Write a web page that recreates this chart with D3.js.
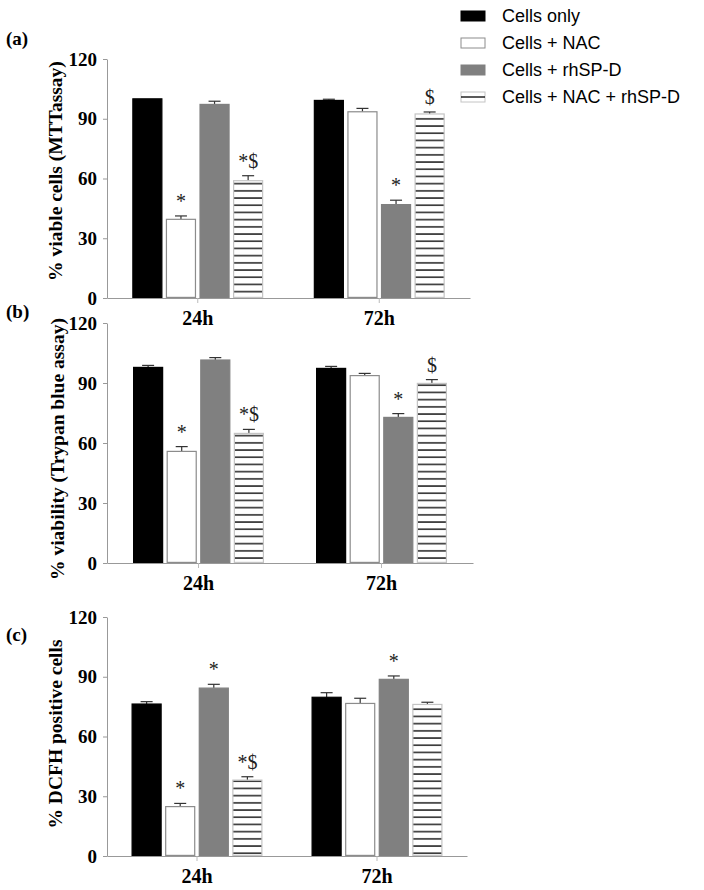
<!DOCTYPE html>
<html>
<head>
<meta charset="utf-8">
<script src="https://cdn.jsdelivr.net/npm/d3@7"></script>
<style>
  html, body { margin: 0; padding: 0; background: #fff; }
  svg { display: block; }
</style>
</head>
<body>
<svg id="chart" width="704" height="890"></svg>
<script>
// ---------------- data ----------------
const categories = ["24h", "72h"];
const seriesNames = ["Cells only", "Cells + NAC", "Cells + rhSP-D", "Cells + NAC + rhSP-D"];
const yTicks = [0, 30, 60, 90, 120];

const mttValues  = [[100, 39.5, 97.2, 58.9], [99.2, 93.5, 46.9, 92.4]];
const mttErrors  = [[0, 1.7, 1.6, 2.5], [0.6, 1.7, 2.2, 1.0]];
const mttMarks   = [["", "*", "", "*$"], ["", "", "*", "$"]];

const trypanValues = [[97.8, 55.8, 101.5, 64.8], [97.3, 93.7, 72.8, 89.8]];
const trypanErrors = [[1.0, 2.4, 1.2, 2.0], [1.0, 1.1, 1.9, 1.9]];
const trypanMarks  = [["", "*", "", "*$"], ["", "", "*", "$"]];

const dcfhValues = [[76.3, 24.8, 84.3, 38.1], [79.7, 76.6, 88.7, 76.1]];
const dcfhErrors = [[1.2, 1.6, 1.9, 1.7], [2.3, 2.6, 1.7, 1.1]];
const dcfhMarks  = [["", "*", "*", "*$"], ["", "", "*", ""]];

const panelLetters = ["(a)", "(b)", "(c)"];
const yTitles = ["% viable cells (MTTassay)", "% viability (Trypan blue assay)", "% DCFH positive cells"];

// ---------------- layout ----------------
const svg = d3.select("#chart");
const serif = "'Liberation Serif', 'Times New Roman', serif";
const sans = "'Liberation Sans', Arial, sans-serif";

const defs = svg.append("defs");
const pat = defs.append("pattern")
  .attr("id", "hatch").attr("patternUnits", "userSpaceOnUse")
  .attr("width", 8).attr("height", 7.2);
pat.append("rect").attr("width", 8).attr("height", 7.2).attr("fill", "#fff");
pat.append("rect").attr("x", 0).attr("y", 3).attr("width", 8).attr("height", 1.3).attr("fill", "#000");

const fills = ["#000000", "#ffffff", "#808080", "url(#hatch)"];
const strokes = ["#000000", "#8c8c8c", "#808080", "#c4c4c4"];

const panels = [
  { values: mttValues, errors: mttErrors, marks: mttMarks, left: 107, right: 470, y0: 298, y120: 59, titleY: 171, titleX: 58, letterY: 45 },
  { values: trypanValues, errors: trypanErrors, marks: trypanMarks, left: 107, right: 473, y0: 563, y120: 323, titleY: 449, titleX: 60, letterY: 318 },
  { values: dcfhValues, errors: dcfhErrors, marks: dcfhMarks, left: 107, right: 467, y0: 856, y120: 617, titleY: 734, titleX: 58, letterY: 641 }
];

panels.forEach((p, pi) => {
  const g = svg.append("g");
  const y = d3.scaleLinear().domain([0, 120]).range([p.y0, p.y120]);
  const x0 = d3.scaleBand().domain(categories).range([p.left, p.right]).padding(0);
  const x1 = d3.scaleBand().domain(seriesNames).range([-65.5, 65.5]).paddingInner(0.1);

  // y axis
  const yAxis = g.append("g").attr("transform", `translate(${p.left},0)`)
    .call(d3.axisLeft(y).tickValues(yTicks).tickSize(4).tickPadding(6).tickSizeOuter(0));
  yAxis.select(".domain").attr("stroke", "#999");
  yAxis.selectAll(".tick line").attr("stroke", "#999");
  yAxis.selectAll("text").attr("font-family", serif).attr("font-weight", "bold")
    .attr("font-size", 19).attr("fill", "#000");

  // x axis
  const xAxis = g.append("g").attr("transform", `translate(0,${p.y0})`)
    .call(d3.axisBottom(x0).tickSize(5).tickSizeOuter(0).tickPadding(8));
  xAxis.select(".domain").attr("stroke", "#999");
  xAxis.selectAll(".tick line").attr("stroke", "#bbb");
  xAxis.selectAll("text").attr("font-family", serif).attr("font-weight", "bold")
    .attr("font-size", 20).attr("fill", "#000");

  // bars
  categories.forEach((cat, ci) => {
    const cx = x0(cat) + x0.bandwidth() / 2;
    seriesNames.forEach((s, si) => {
      const v = p.values[ci][si];
      const e = p.errors[ci][si];
      const bx = cx + x1(s);
      const bw = x1.bandwidth();
      // error bar (upper only)
      if (e > 0) {
        g.append("line").attr("x1", bx + bw / 2).attr("x2", bx + bw / 2)
          .attr("y1", y(v)).attr("y2", y(v + e)).attr("stroke", "#333").attr("stroke-width", 1.2);
        g.append("line").attr("x1", bx + bw / 2 - 6).attr("x2", bx + bw / 2 + 6)
          .attr("y1", y(v + e)).attr("y2", y(v + e)).attr("stroke", "#333").attr("stroke-width", 1.2);
      }
      g.append("rect")
        .attr("x", bx + 0.6).attr("y", y(v))
        .attr("width", bw - 1.2).attr("height", y(0) - y(v) - 0.6)
        .attr("fill", fills[si]).attr("stroke", strokes[si]).attr("stroke-width", 1.2);
      const m = p.marks[ci][si];
      if (m) {
        g.append("text").attr("x", bx + bw / 2).attr("y", y(v + e) - 8)
          .attr("text-anchor", "middle").attr("font-family", serif)
          .attr("font-size", 20).attr("fill", "#222").text(m);
      }
    });
  });

  // y title
  g.append("text")
    .attr("transform", `translate(${p.titleX},${p.titleY}) rotate(-90)`)
    .attr("text-anchor", "middle").attr("dominant-baseline", "middle")
    .attr("font-family", serif).attr("font-weight", "bold").attr("font-size", 19.5)
    .text(yTitles[pi]);

  // panel letter
  g.append("text").attr("x", 6).attr("y", p.letterY)
    .attr("font-family", serif).attr("font-weight", "bold").attr("font-size", 19)
    .text(panelLetters[pi]);
});

// ---------------- legend ----------------
const legend = svg.append("g");
seriesNames.forEach((s, i) => {
  const cy = 16 + i * 27;
  legend.append("rect").attr("x", 461).attr("y", cy - 5).attr("width", 24).attr("height", 10)
    .attr("fill", i === 3 ? "#fff" : fills[i]).attr("stroke", strokes[i]).attr("stroke-width", 1);
  if (i === 3) {
    legend.append("line").attr("x1", 461).attr("x2", 485).attr("y1", cy).attr("y2", cy)
      .attr("stroke", "#000").attr("stroke-width", 1.3);
  }
  legend.append("text").attr("x", 502).attr("y", cy + 6)
    .attr("font-family", sans).attr("font-size", 18).attr("fill", "#000").text(s);
});
</script>
</body>
</html>
